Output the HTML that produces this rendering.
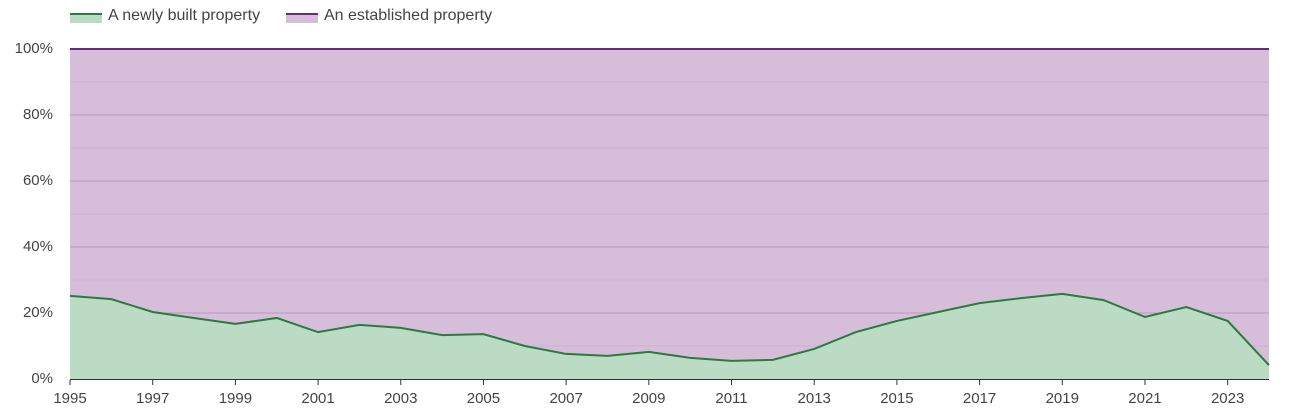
<!DOCTYPE html>
<html><head><meta charset="utf-8"><style>
body{margin:0;background:#fff;font-family:"Liberation Sans",sans-serif;}
svg text{font-family:"Liberation Sans",sans-serif;fill:#444;}
</style></head><body>
<svg width="1305" height="410">
<g>
 <g>
  <rect x="70" y="13" width="32" height="10" fill="#bcdbc4"/><rect x="70" y="13" width="32" height="2" fill="#2a7b3d"/>
  <text x="108" y="16" font-size="16" dominant-baseline="middle">A newly built property</text></g>
 <g>
  <rect x="286" y="13" width="32" height="10" fill="#d6bedb"/><rect x="286" y="13" width="32" height="2" fill="#6a2a7a"/>
  <text x="324" y="16" font-size="16" dominant-baseline="middle">An established property</text></g>
</g>
<g id="plot"></g>
</svg>
<script>
const years=[1995,1996,1997,1998,1999,2000,2001,2002,2003,2004,2005,2006,2007,2008,2009,2010,2011,2012,2013,2014,2015,2016,2017,2018,2019,2020,2021,2022,2023,2024];
const newBuilt=[25.2,24.2,20.3,18.5,16.7,18.5,14.2,16.4,15.5,13.3,13.6,10,7.6,7,8.2,6.4,5.5,5.8,9.1,14.2,17.6,20.3,23,24.5,25.8,23.9,18.8,21.8,17.6,4.2];
const yTicks=[0,20,40,60,80,100];
const xTicks=[1995,1997,1999,2001,2003,2005,2007,2009,2011,2013,2015,2017,2019,2021,2023];
const NS="http://www.w3.org/2000/svg";
const g=document.getElementById('plot');
const x=v=>70+(v-1995)*(1269-70)/(2024-1995);
const y=v=>379-v*3.3;
function mk(t,a){const e=document.createElementNS(NS,t);for(const k in a)e.setAttribute(k,a[k]);g.appendChild(e);return e;}
const bg=mk('rect',{x:70,y:y(100),width:1199,height:y(0)-y(100),fill:'#d6bedb'});


for(let v=10;v<100;v+=10){const l=mk('line',{x1:70,x2:1269,y1:y(v),y2:y(v),stroke:v%20?'#c9b0cf':'#b49abb','stroke-width':1});

}
const pts=years.map((yr,i)=>x(yr)+','+y(newBuilt[i]));
const area=mk('polygon',{points:x(1995)+','+y(0)+' '+pts.join(' ')+' '+x(2024)+','+y(0),fill:'#bcdbc4'});


const topLine=mk('line',{x1:70,x2:1269,y1:y(100),y2:y(100),stroke:'#6a2a7a','stroke-width':2});


const ln=mk('polyline',{points:pts.join(' '),fill:'none',stroke:'#2a7b3d','stroke-width':2});


const ax=mk('line',{x1:70,x2:1269,y1:379.5,y2:379.5,stroke:'#333','stroke-width':1});


yTicks.forEach(v=>{const t=mk('text',{x:53,y:y(v),'font-size':15,'text-anchor':'end','dominant-baseline':'middle'});t.textContent=v+'%';

});
xTicks.forEach(v=>{const tk=mk('line',{x1:x(v),x2:x(v),y1:380,y2:385,stroke:'#333'});


const t=mk('text',{x:x(v),y:399,'font-size':15,'text-anchor':'middle','dominant-baseline':'middle'});t.textContent=v;

});
</script>
</body></html>
